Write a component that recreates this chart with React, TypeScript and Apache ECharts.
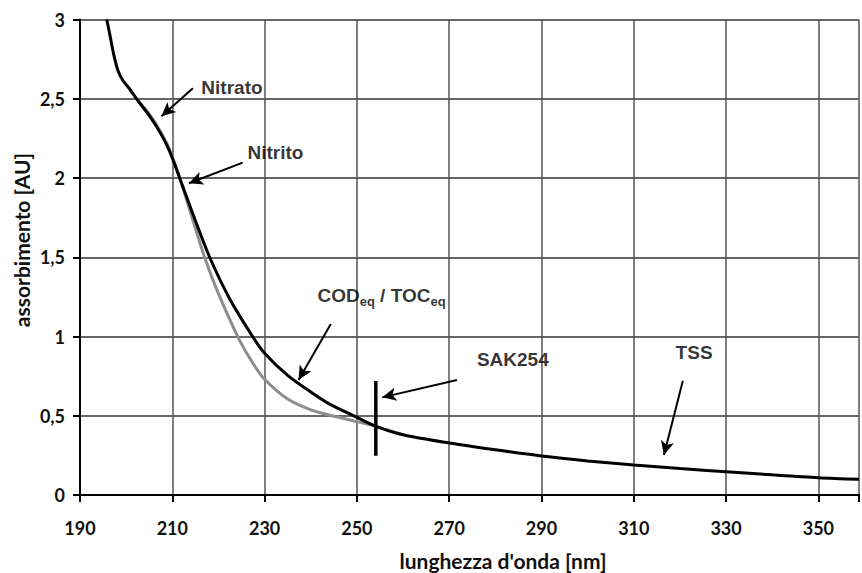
import React, { useEffect, useRef } from "react";
import * as echarts from "echarts";

// Black curve (total spectrum)
const blackWavelength = [195.8, 196.5, 197.3, 198.2, 199.3, 200.8, 202.5, 205.1, 207.5, 209.4, 211.6, 214.5, 218.1, 222.4, 227.4, 230, 235, 240, 244, 250, 254, 260, 270, 280, 290, 300, 310, 320, 330, 340, 350, 358.8];
const blackAbsorb = [3.0, 2.9, 2.78, 2.68, 2.615, 2.56, 2.49, 2.39, 2.28, 2.17, 2.0, 1.77, 1.5, 1.24, 1.0, 0.895, 0.755, 0.65, 0.575, 0.49, 0.435, 0.38, 0.328, 0.285, 0.246, 0.215, 0.189, 0.167, 0.147, 0.127, 0.109, 0.099];

// Gray curve
const grayWavelength = [202.5, 205.1, 207.5, 209.4, 211.6, 214.5, 217, 220, 224.5, 227.5, 230, 235, 240, 244, 250, 254, 260];
const grayAbsorb = [2.49, 2.4, 2.29, 2.18, 2.0, 1.73, 1.5, 1.27, 0.98, 0.83, 0.73, 0.605, 0.537, 0.505, 0.463, 0.433, 0.38];

// SAK254 marker bar
const sakBarWavelength = [254.1, 254.1];
const sakBarAbsorb = [0.72, 0.248];

// Annotation labels
const annotationTexts = ["Nitrato", "Nitrito", "{b|COD}{s|eq}{b| / TOC}{s|eq}", "SAK254", "TSS"];
const annotationX = [216.3, 226.3, 241.45, 276.0, 319.06];
const annotationY = [2.574, 2.158, 1.256, 0.858, 0.899];

// Arrows: start -> tip
const arrowStartX = [214.46, 225.26, 244.35, 271.68, 320.63];
const arrowStartY = [2.566, 2.097, 1.079, 0.726, 0.721];
const arrowTipX = [207.64, 213.6, 237.35, 255.49, 316.53];
const arrowTipY = [2.39, 1.967, 0.726, 0.616, 0.252];

const xTicksMin = 190;
const xMax = 358.8;
const yMax = 3;

export default function App() {
  const ref = useRef<HTMLDivElement>(null);
  useEffect(() => {
    if (!ref.current) return;
    const chart = echarts.init(ref.current, null, { renderer: "svg" });
    const tickFont = { fontFamily: "Lato", fontWeight: "bold", fontSize: 18, color: "#111" };
    const annFont = { fontFamily: "Liberation Sans", fontWeight: "bold", fontSize: 19, color: "#000" };
    chart.setOption({
      animation: false,
      grid: { left: 80, right: 0, top: 19.5, bottom: 78 },
      xAxis: {
        type: "value",
        min: xTicksMin,
        max: xMax,
        interval: 20,
        axisLine: { show: true, onZero: false, lineStyle: { color: "#000", width: 2 } },
        axisTick: { show: true, length: 7, lineStyle: { color: "#000", width: 2 } },
        axisLabel: {
          ...tickFont,
          margin: 24,
          formatter: (v: number) => ((Math.round(v) - xTicksMin) % 20 === 0 && Math.abs(v - Math.round(v)) < 1e-6 ? String(Math.round(v)) : ""),
        },
        splitLine: { show: true, lineStyle: { color: "#555", width: 1.5 } },
      },
      yAxis: {
        type: "value",
        min: 0,
        max: yMax,
        interval: 0.5,
        axisLine: { show: true, lineStyle: { color: "#000", width: 2 } },
        axisTick: { show: true, length: 7, lineStyle: { color: "#000", width: 2 } },
        axisLabel: {
          ...tickFont,
          margin: 15,
          formatter: (v: number) => String(v).replace(".", ","),
        },
        splitLine: { show: true, lineStyle: { color: "#333", width: 1.5 } },
      },
      graphic: [
        {
          type: "text",
          x: 21.5,
          y: 240,
          rotation: Math.PI / 2,
          style: { text: "assorbimento [AU]", ...tickFont, fontSize: 21, fill: "#111", align: "center", verticalAlign: "middle" },
        },
        {
          type: "text",
          x: 503,
          y: 560,
          style: { text: "lunghezza d'onda [nm]", ...tickFont, fontSize: 21, fill: "#111", align: "center", verticalAlign: "middle" },
        },
      ],
      series: [
        {
          type: "line",
          name: "gray",
          data: grayWavelength.map((x, i) => [x, grayAbsorb[i]]),
          smooth: 0.3,
          symbol: "none",
          lineStyle: { color: "#8e8e8e", width: 3 },
          silent: true,
          z: 2,
        },
        {
          type: "line",
          name: "black",
          data: blackWavelength.map((x, i) => [x, blackAbsorb[i]]),
          smooth: 0.3,
          symbol: "none",
          lineStyle: { color: "#000", width: 3 },
          silent: true,
          z: 3,
        },
        {
          type: "line",
          name: "sak",
          data: sakBarWavelength.map((x, i) => [x, sakBarAbsorb[i]]),
          symbol: "none",
          lineStyle: { color: "#000", width: 3.5 },
          silent: true,
          z: 4,
          markLine: {
            silent: true,
            symbol: ["none", "arrow"],
            symbolSize: [10, 14],
            label: { show: false },
            lineStyle: { color: "#000", width: 2, type: "solid" },
            emphasis: { disabled: true },
            data: arrowStartX.map((x, i) => [
              { coord: [x, arrowStartY[i]] },
              { coord: [arrowTipX[i], arrowTipY[i]] },
            ]),
          },
        },
        {
          type: "scatter",
          name: "labels",
          symbolSize: 0,
          silent: true,
          z: 5,
          data: annotationX.map((x, i) => ({
            value: [x, annotationY[i]],
            label: {
              show: true,
              position: [0, 0],
              align: "left",
              verticalAlign: "middle",
              formatter: annotationTexts[i],
              ...annFont,
              rich: {
                b: { ...annFont, lineHeight: 20, verticalAlign: "top" },
                s: { ...annFont, fontSize: 13, lineHeight: 13, padding: [11, 0, 0, 0] },
              },
            },
          })),
        },
      ],
    });
    return () => chart.dispose();
  }, []);
  return <div ref={ref} style={{ width: 862, height: 573, position: "absolute", left: 0, top: 0 }} />;
}
